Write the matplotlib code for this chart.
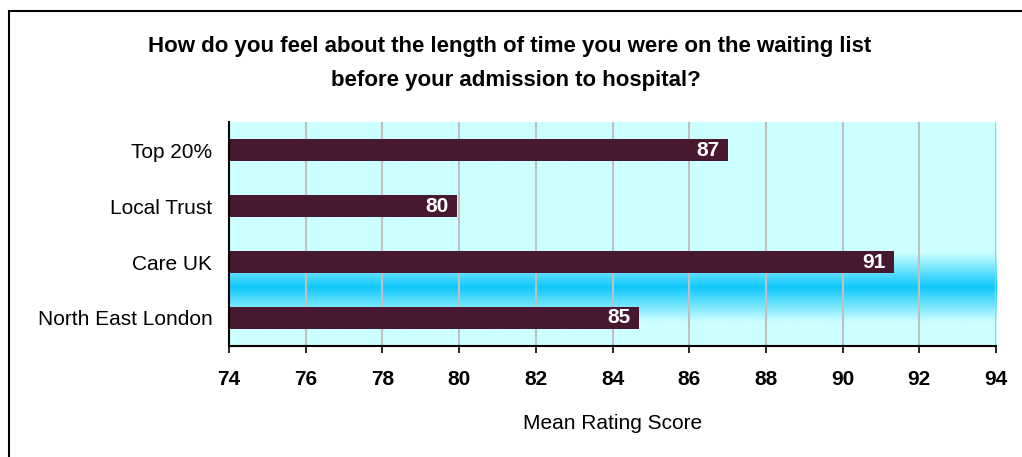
import numpy as np
import matplotlib
matplotlib.use("Agg")
import matplotlib.pyplot as plt
from matplotlib.colors import LinearSegmentedColormap
from matplotlib.patches import Rectangle

plt.rcParams['font.family'] = ['Liberation Sans', 'DejaVu Sans']

# data
categories = ['North East London', 'Care UK', 'Local Trust', 'Top 20%']
scores = [84.7, 91.35, 79.95, 87.0]
labels = ['85', '91', '80', '87']
xticks = [74, 76, 78, 80, 82, 84, 86, 88, 90, 92, 94]

bar_col = '#471830'
fig = plt.figure(figsize=(10.22, 4.57), dpi=100)
ax = fig.add_axes([0.2241, 0.2429, 0.7505, 0.4901])

# background with cyan band
cmap = LinearSegmentedColormap.from_list('bg', ['#ccffff', '#10c8fc'])
yy = np.linspace(-0.5, 3.5, 400)
prof = np.clip(1 - np.abs(yy - 0.55) / 0.62, 0, 1)
ax.imshow(prof[:, None], extent=[74, 94, -0.5, 3.5], origin='lower',
          aspect='auto', cmap=cmap, vmin=0, vmax=1, zorder=0)

ax.barh(range(len(categories)), [s - 74 for s in scores], left=74, height=0.4,
        color=bar_col, zorder=3)
for i, (s, lab) in enumerate(zip(scores, labels)):
    ax.text(s - 0.22, i, lab, ha='right', va='center', color='white',
            fontsize=15, fontweight='bold', zorder=4)

ax.set_xlim(74, 94)
ax.set_ylim(-0.5, 3.5)
ax.set_xticks(xticks)
ax.set_xticklabels([str(t) for t in xticks], fontsize=15, fontweight='bold')
ax.set_yticks(range(len(categories)))
ax.set_yticklabels(categories, fontsize=15)
ax.tick_params(axis='y', length=0, pad=12)
ax.tick_params(axis='x', length=5, width=1.2, pad=12, direction='out')
ax.grid(axis='x', color='#c0c0c0', linewidth=1.5, zorder=1)
ax.set_axisbelow(False)
for sp in ['top', 'right']:
    ax.spines[sp].set_visible(False)
for sp in ['left', 'bottom']:
    ax.spines[sp].set_linewidth(1.5)
    ax.spines[sp].set_zorder(5)
ax.set_xlabel('Mean Rating Score', fontsize=15, labelpad=18)

fig.text(0.4985, 0.898, 'How do you feel about the length of time you were on the waiting list',
         ha='center', va='center', fontsize=16, fontweight='bold')
fig.text(0.505, 0.824, 'before your admission to hospital?',
         ha='center', va='center', fontsize=16, fontweight='bold')

# outer frame (runs off the right and bottom edges)
fig.patches.append(Rectangle((9 / 1022, -0.2), 1.2, 1 - 11 / 457 + 0.2,
                             transform=fig.transFigure, fill=False,
                             edgecolor='black', linewidth=1.5))

fig.savefig('out.png', dpi=100)
